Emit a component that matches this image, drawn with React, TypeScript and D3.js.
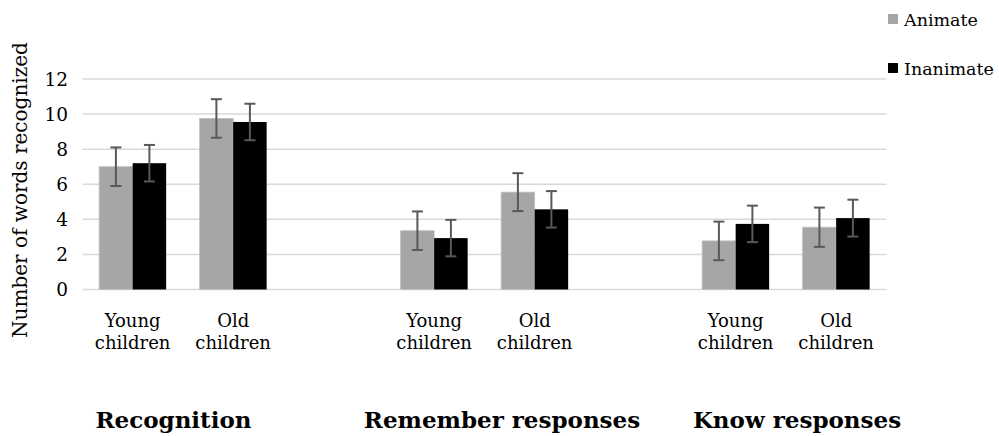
import React from "react";
import * as d3 from "d3";

const categories = ["Young children", "Old children", "", "Young children", "Old children", "", "Young children", "Old children"];
const groupLabels = ["Recognition", "Remember responses", "Know responses"];
const series = ["Animate", "Inanimate"];
const animateValues = [7.0, 9.75, null, 3.35, 5.55, null, 2.77, 3.55];
const inanimateValues = [7.2, 9.55, null, 2.93, 4.57, null, 3.74, 4.07];
const animateErrors = [1.1, 1.1, null, 1.1, 1.08, null, 1.1, 1.12];
const inanimateErrors = [1.04, 1.04, null, 1.04, 1.04, null, 1.04, 1.05];
const yTicks = [0, 2, 4, 6, 8, 10, 12];
const colors = ["#a6a6a6", "#000000"];

const W = 999, H = 436;
const FONT = "'DejaVu Serif', 'Liberation Serif', serif";

export default function App() {
  const x0 = 82.4, x1 = 886.4;
  const yTop = 79, yBot = 289.5;
  const x = d3.scaleBand<number>().domain(d3.range(categories.length)).range([x0, x1]).paddingInner(0).paddingOuter(0);
  const y = d3.scaleLinear().domain([0, 12]).range([yBot, yTop]);
  const bw = 33.5;
  const vals = [animateValues, inanimateValues];
  const errs = [animateErrors, inanimateErrors];
  const groupX = [173.5, 502, 797];

  return (
    <svg width={W} height={H} style={{ position: "absolute", left: 0, top: 0, background: "#fff" }} fontFamily={FONT}>
      <rect width={W} height={H} fill="#fff" />
      {yTicks.map((t) => (
        <g key={t}>
          <line x1={x0} x2={x1} y1={y(t)} y2={y(t)} stroke="#d9d9d9" strokeWidth={1.5} />
          <text x={68} y={y(t)} dy="0.36em" textAnchor="end" fontSize={18.5} fill="#000">{t}</text>
        </g>
      ))}
      {categories.map((c, i) =>
        vals.map((v, s) => {
          const val = v[i];
          if (val == null) return null;
          const cx = (x(i) as number) + x.bandwidth() / 2;
          const bx = cx - bw + s * bw;
          const e = errs[s][i] as number;
          const ex = bx + bw / 2;
          return (
            <g key={`${i}-${s}`}>
              <rect x={bx} y={y(val)} width={bw} height={y(0) - y(val)} fill={colors[s]} stroke={s === 0 ? "#bfbfbf" : "none"} strokeWidth={0.8} />
              <line x1={ex} x2={ex} y1={y(val + e)} y2={y(val - e)} stroke="#595959" strokeWidth={2} />
              <line x1={ex - 5.5} x2={ex + 5.5} y1={y(val + e)} y2={y(val + e)} stroke="#595959" strokeWidth={2} />
              <line x1={ex - 5.5} x2={ex + 5.5} y1={y(val - e)} y2={y(val - e)} stroke="#595959" strokeWidth={2} />
            </g>
          );
        })
      )}
      {categories.map((c, i) => {
        if (!c) return null;
        const cx = (x(i) as number) + x.bandwidth() / 2;
        const parts = c.split(" ");
        return (
          <text key={`c${i}`} x={cx} textAnchor="middle" fontSize={18} fill="#000">
            <tspan x={cx} y={327}>{parts[0]}</tspan>
            <tspan x={cx} y={349}>{parts[1]}</tspan>
          </text>
        );
      })}
      <text transform={`translate(27,${190}) rotate(-90)`} textAnchor="middle" fontSize={20} fill="#000">Number of words recognized</text>
      {groupLabels.map((g, i) => (
        <text key={g} x={groupX[i]} y={428} textAnchor="middle" fontSize={23} fontWeight="bold" fill="#000">{g}</text>
      ))}
      {series.map((s, i) => (
        <g key={s}>
          <rect x={888} y={14 + i * 49} width={10} height={10} fill={colors[i]} />
          <text x={904} y={26 + i * 49} fontSize={17.5} fill="#000">{s}</text>
        </g>
      ))}
    </svg>
  );
}
